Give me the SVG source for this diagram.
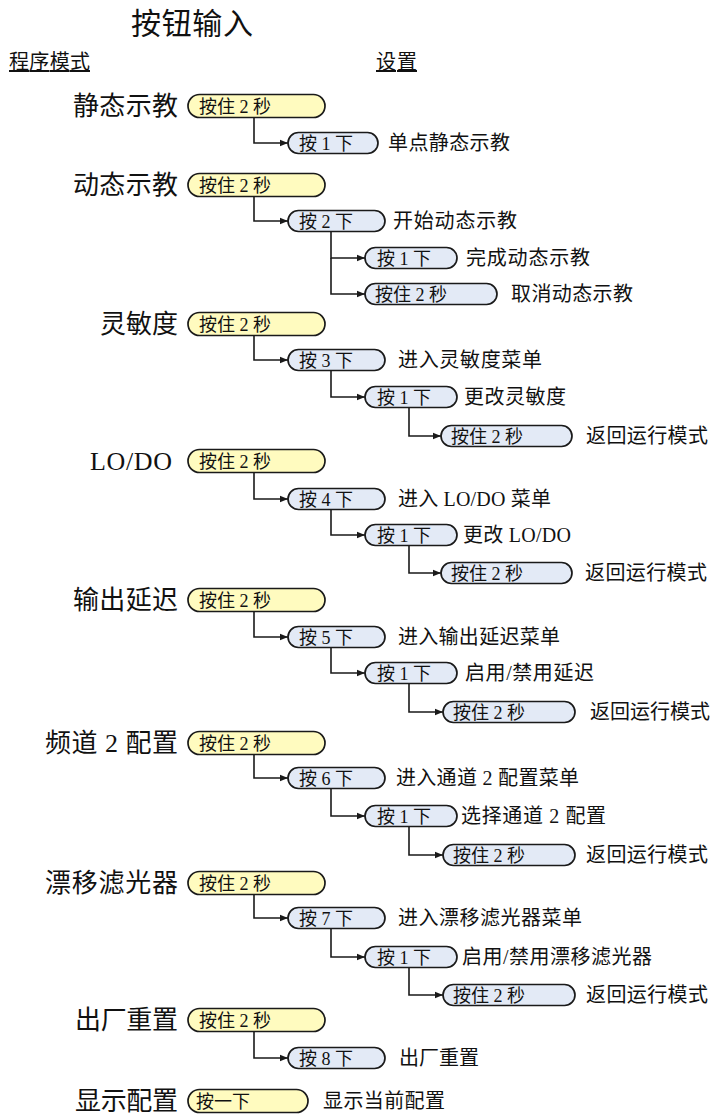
<svg xmlns="http://www.w3.org/2000/svg" width="710" height="1115" viewBox="0 0 710 1115">
<style>
text{font-family:"Liberation Serif","Noto Sans CJK SC",serif;fill:#111}
.title{font-size:30px}
.head{font-size:20px;text-decoration:underline}
.mode{font-size:26px;text-anchor:end}
.pt{font-size:18px}
.lbl{font-size:20px}
.y{fill:#fffbbf;stroke:#1a1a1a;stroke-width:1.7}
.b{fill:#e3eaf6;stroke:#1a1a1a;stroke-width:1.7}
.c{fill:none;stroke:#1a1a1a;stroke-width:1.6;marker-end:url(#ah)}
</style>
<defs>
<marker id="ah" viewBox="0 0 8 8" refX="8" refY="4" markerWidth="8" markerHeight="8" markerUnits="userSpaceOnUse" orient="auto">
<path d="M0 0.8 L8 4 L0 7.2 Z" fill="#1a1a1a"/>
</marker>
</defs>

<text class="title" x="131" y="34" textLength="122">按钮输入</text>
<text class="head" x="9" y="69" textLength="81">程序模式</text>
<text class="head" x="376" y="69" textLength="41">设置</text>

<g id="connectors">
<path class="c" d="M254 118 V143 H288"/>
<path class="c" d="M254 196.5 V221 H288"/>
<path class="c" d="M331 231.5 V258 H365"/>
<path class="c" d="M331 258 V294 H365"/>
<path class="c" d="M254 335.5 V360 H288"/>
<path class="c" d="M331 370.5 V397 H365"/>
<path class="c" d="M409 407.5 V436 H441"/>
<path class="c" d="M254 472.5 V499 H288"/>
<path class="c" d="M331 509.5 V535 H365"/>
<path class="c" d="M409 545.5 V573 H441"/>
<path class="c" d="M254 611.5 V637 H288"/>
<path class="c" d="M331 647.5 V673 H365"/>
<path class="c" d="M409 683.5 V712 H443"/>
<path class="c" d="M254 754.5 V778 H288"/>
<path class="c" d="M331 788.5 V816 H365"/>
<path class="c" d="M409 826.5 V855 H443"/>
<path class="c" d="M254 894.5 V918 H288"/>
<path class="c" d="M331 928.5 V957 H365"/>
<path class="c" d="M409 967.5 V995 H443"/>
<path class="c" d="M254 1031.5 V1058 H288"/>
</g>

<!-- Row 1 -->
<g id="mode-static">
<text class="mode" x="178" y="115" textLength="105">静态示教</text>
<rect class="y" x="188" y="94.5" width="137" height="23" rx="11.5"/>
<text class="pt" x="199" y="113">按住 2 秒</text>
</g>
<g id="n1-1">
<rect class="b" x="288" y="132.5" width="90" height="21" rx="10.5"/>
<text class="pt" x="299" y="150">按 1 下</text>
<text class="lbl" x="388" y="150" textLength="122">单点静态示教</text>
</g>

<!-- Row 2 -->
<g id="mode-dynamic">
<text class="mode" x="178" y="194" textLength="105">动态示教</text>
<rect class="y" x="188" y="173.5" width="137" height="23" rx="11.5"/>
<text class="pt" x="199" y="192">按住 2 秒</text>
</g>
<g id="n2-1">
<rect class="b" x="288" y="210.5" width="97" height="21" rx="10.5"/>
<text class="pt" x="299" y="228">按 2 下</text>
<text class="lbl" x="393" y="228" textLength="124">开始动态示教</text>
</g>
<g id="n2-2">
<rect class="b" x="365" y="247.5" width="92" height="21" rx="10.5"/>
<text class="pt" x="377" y="265">按 1 下</text>
<text class="lbl" x="466" y="265" textLength="124">完成动态示教</text>
</g>
<g id="n2-3">
<rect class="b" x="365" y="283.5" width="132" height="21" rx="10.5"/>
<text class="pt" x="375" y="301">按住 2 秒</text>
<text class="lbl" x="511" y="301" textLength="122">取消动态示教</text>
</g>

<!-- Row 3 -->
<g id="mode-sens">
<text class="mode" x="178" y="333" textLength="78">灵敏度</text>
<rect class="y" x="188" y="312.5" width="137" height="23" rx="11.5"/>
<text class="pt" x="199" y="331">按住 2 秒</text>
</g>
<g id="n3-1">
<rect class="b" x="288" y="349.5" width="97" height="21" rx="10.5"/>
<text class="pt" x="299" y="367">按 3 下</text>
<text class="lbl" x="398" y="367" textLength="144">进入灵敏度菜单</text>
</g>
<g id="n3-2">
<rect class="b" x="365" y="386.5" width="92" height="21" rx="10.5"/>
<text class="pt" x="377" y="404">按 1 下</text>
<text class="lbl" x="464" y="404" textLength="102">更改灵敏度</text>
</g>
<g id="n3-3">
<rect class="b" x="441" y="425.5" width="131" height="21" rx="10.5"/>
<text class="pt" x="451" y="443">按住 2 秒</text>
<text class="lbl" x="586" y="443" textLength="122">返回运行模式</text>
</g>

<!-- Row 4 -->
<g id="mode-lodo">
<text class="mode" x="172" y="470" textLength="82">LO/DO</text>
<rect class="y" x="188" y="449.5" width="137" height="23" rx="11.5"/>
<text class="pt" x="199" y="468">按住 2 秒</text>
</g>
<g id="n4-1">
<rect class="b" x="288" y="488.5" width="97" height="21" rx="10.5"/>
<text class="pt" x="299" y="506">按 4 下</text>
<text class="lbl" x="398" y="506" textLength="153">进入 LO/DO 菜单</text>
</g>
<g id="n4-2">
<rect class="b" x="365" y="524.5" width="92" height="21" rx="10.5"/>
<text class="pt" x="377" y="542">按 1 下</text>
<text class="lbl" x="463" y="542" textLength="108">更改 LO/DO</text>
</g>
<g id="n4-3">
<rect class="b" x="441" y="562.5" width="131" height="21" rx="10.5"/>
<text class="pt" x="451" y="580">按住 2 秒</text>
<text class="lbl" x="585" y="580" textLength="122">返回运行模式</text>
</g>

<!-- Row 5 -->
<g id="mode-delay">
<text class="mode" x="178" y="609" textLength="105">输出延迟</text>
<rect class="y" x="188" y="588.5" width="137" height="23" rx="11.5"/>
<text class="pt" x="199" y="607">按住 2 秒</text>
</g>
<g id="n5-1">
<rect class="b" x="288" y="626.5" width="97" height="21" rx="10.5"/>
<text class="pt" x="299" y="644">按 5 下</text>
<text class="lbl" x="398" y="644" textLength="162">进入输出延迟菜单</text>
</g>
<g id="n5-2">
<rect class="b" x="365" y="662.5" width="92" height="21" rx="10.5"/>
<text class="pt" x="377" y="680">按 1 下</text>
<text class="lbl" x="465" y="680" textLength="129">启用/禁用延迟</text>
</g>
<g id="n5-3">
<rect class="b" x="443" y="701.5" width="132" height="21" rx="10.5"/>
<text class="pt" x="453" y="719">按住 2 秒</text>
<text class="lbl" x="590" y="719" textLength="120">返回运行模式</text>
</g>

<!-- Row 6 -->
<g id="mode-ch2">
<text class="mode" x="178" y="752" textLength="133">频道 2 配置</text>
<rect class="y" x="188" y="731.5" width="137" height="23" rx="11.5"/>
<text class="pt" x="199" y="750">按住 2 秒</text>
</g>
<g id="n6-1">
<rect class="b" x="288" y="767.5" width="97" height="21" rx="10.5"/>
<text class="pt" x="299" y="785">按 6 下</text>
<text class="lbl" x="396" y="785" textLength="183">进入通道 2 配置菜单</text>
</g>
<g id="n6-2">
<rect class="b" x="365" y="805.5" width="92" height="21" rx="10.5"/>
<text class="pt" x="377" y="823">按 1 下</text>
<text class="lbl" x="461" y="823" textLength="145">选择通道 2 配置</text>
</g>
<g id="n6-3">
<rect class="b" x="443" y="844.5" width="132" height="21" rx="10.5"/>
<text class="pt" x="453" y="862">按住 2 秒</text>
<text class="lbl" x="586" y="862" textLength="122">返回运行模式</text>
</g>

<!-- Row 7 -->
<g id="mode-drift">
<text class="mode" x="178" y="892" textLength="133">漂移滤光器</text>
<rect class="y" x="188" y="871.5" width="137" height="23" rx="11.5"/>
<text class="pt" x="199" y="890">按住 2 秒</text>
</g>
<g id="n7-1">
<rect class="b" x="288" y="907.5" width="97" height="21" rx="10.5"/>
<text class="pt" x="299" y="925">按 7 下</text>
<text class="lbl" x="398" y="925" textLength="184">进入漂移滤光器菜单</text>
</g>
<g id="n7-2">
<rect class="b" x="365" y="946.5" width="92" height="21" rx="10.5"/>
<text class="pt" x="377" y="964">按 1 下</text>
<text class="lbl" x="462" y="964" textLength="190">启用/禁用漂移滤光器</text>
</g>
<g id="n7-3">
<rect class="b" x="443" y="984.5" width="132" height="21" rx="10.5"/>
<text class="pt" x="453" y="1002">按住 2 秒</text>
<text class="lbl" x="586" y="1002" textLength="122">返回运行模式</text>
</g>

<!-- Row 8 -->
<g id="mode-reset">
<text class="mode" x="178" y="1029" textLength="103">出厂重置</text>
<rect class="y" x="188" y="1008.5" width="137" height="23" rx="11.5"/>
<text class="pt" x="199" y="1027">按住 2 秒</text>
</g>
<g id="n8-1">
<rect class="b" x="288" y="1047.5" width="97" height="21" rx="10.5"/>
<text class="pt" x="299" y="1065">按 8 下</text>
<text class="lbl" x="399" y="1065" textLength="80">出厂重置</text>
</g>

<!-- Row 9 -->
<g id="mode-show">
<text class="mode" x="178" y="1110" textLength="103">显示配置</text>
<rect class="y" x="188" y="1089.5" width="120" height="23" rx="11.5"/>
<text class="pt" x="196" y="1108">按一下</text>
<text class="lbl" x="323" y="1108" textLength="122">显示当前配置</text>
</g>
</svg>
